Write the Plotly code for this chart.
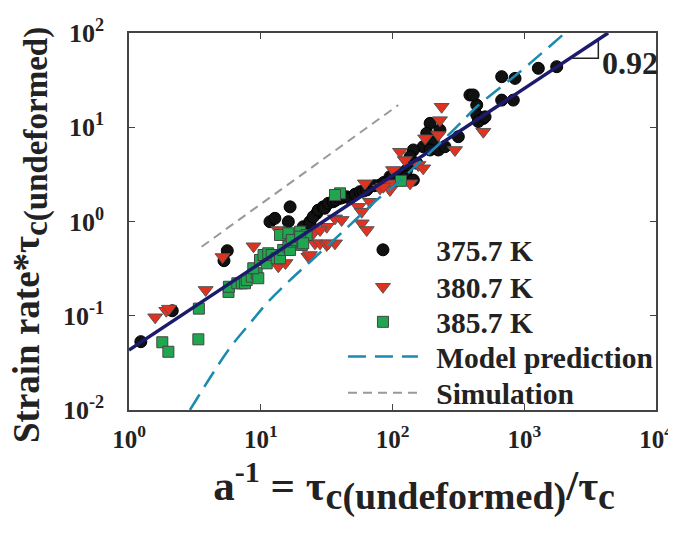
import plotly.graph_objects as go

# ---- data ----
black_x = [1.23, 2.13, 5.57, 5.26, 11.75, 12.8, 16.7, 16.2, 23.6, 26.6, 21.0, 23.6, 25.0, 27.3, 29.8,
           30.5, 32.6, 35.5, 37.0, 40.0, 42.0, 44.9, 47.6, 52.0, 56.6, 60.0, 63.7, 67.5, 73.0, 80.4,
           86.0, 95.7, 100, 108, 387, 436, 436, 193, 229, 182, 204, 171, 193, 223, 144, 136, 153,
           128, 114, 108, 128, 90.4, 144, 674, 851, 1279, 1763, 674, 826, 410, 489, 448, 316, 250, 504]
black_y = [0.0531, 0.113, 0.49, 0.384, 0.995, 1.08, 1.43, 0.995, 0.995, 1.22, 0.88, 0.957, 1.12, 1.32, 1.43,
           1.38, 1.56, 1.62, 1.68, 1.76, 1.80, 1.83, 1.76, 1.95, 2.07, 2.10, 2.16, 2.34, 2.40, 2.44,
           2.60, 2.99, 3.0, 3.25, 22.0, 17.2, 13.5, 11.0, 9.35, 8.63, 7.32, 6.22, 5.74, 5.74, 5.74, 4.87, 4.15,
           3.52, 3.25, 2.75, 2.99, 2.54, 2.75, 34.4, 33.0, 42.2, 43.9, 19.4, 19.4, 22.0, 12.4, 11.5, 7.94, 6.22, 12.9]

red_x = [1.58, 1.92, 2.01, 3.82, 5.13, 8.81, 13.6, 13.6, 15.4, 23.0, 25.8, 28.2, 25.0, 31.7, 36.6,
         61.8, 67.5, 80.4, 95.7, 95.7, 55.0, 58.4, 36.6, 41.1, 31.7, 28.2, 32.6, 58.4, 63.7, 23.6,
         236, 229, 177, 223, 298, 114, 124, 157, 171, 136, 101, 85.1, 489]
red_y = [0.0964, 0.113, 0.119, 0.188, 0.42, 0.546, 0.813, 0.335, 0.363, 0.423, 0.587, 0.587, 0.75, 0.564, 0.587,
         2.54, 1.62, 2.25, 2.54, 2.16, 1.43, 1.27, 1.08, 1.04, 0.88, 0.813, 0.587, 0.957, 0.813, 0.441,
         16.5, 11.9, 7.63, 8.28, 5.74, 5.5, 4.49, 3.98, 3.67, 2.54, 3.52, 2.34, 8.97]

green_x = [1.79, 1.99, 3.36, 3.39, 5.69, 5.73, 6.64, 7.17, 7.59, 7.82, 8.54, 9.31, 9.58, 8.78, 9.87,
           11.1, 10.5, 11.4, 12.1, 13.2, 14.0, 14.8, 16.2, 16.7, 17.7, 20.5, 14.0, 16.2, 17.2, 19.9,
           20.5, 22.3, 19.9, 21.0, 40.0, 36.6, 116]
green_y = [0.0523, 0.0415, 0.0562, 0.119, 0.179, 0.203, 0.221, 0.221, 0.221, 0.239, 0.26, 0.282, 0.25, 0.319, 0.391,
           0.36, 0.441, 0.46, 0.441, 0.407, 0.407, 0.499, 0.541, 0.499, 0.611, 0.564, 0.72, 0.75, 0.637, 0.78,
           0.664, 0.72, 0.69, 0.587, 1.99, 1.91, 2.7]

model_x = [2.90, 4.25, 5.68, 8.28, 11.4, 16.7, 23.7, 42.4, 75.9, 108, 307, 436, 929, 2037]
model_y = [0.01, 0.0235, 0.0434, 0.0832, 0.141, 0.239, 0.374, 0.79, 1.69, 2.54, 10.1, 16.5, 38.8, 100]

sim_x = [3.56, 110.7]
sim_y = [0.54, 17.2]

fit_x = [1.0, 4330]
fit_y = [0.0433, 100]

slope_tri_x = [2320, 3650, 3650]
slope_tri_y = [54, 54, 82]
slope_label = "0.92"

series_names = ["375.7 K", "380.7 K", "385.7 K", "Model prediction", "Simulation"]

x_tickvals = [1, 10, 100, 1000, 10000]
x_ticktext = ["10<sup>0</sup>", "10<sup>1</sup>", "10<sup>2</sup>", "10<sup>3</sup>", "10<sup>4</sup>"]
y_tickvals = [0.01, 0.1, 1, 10, 100]
y_ticktext = ["10<sup>-2</sup>", "10<sup>-1</sup>", "10<sup>0</sup>", "10<sup>1</sup>", "10<sup>2</sup>"]

FONT = "Liberation Serif"
TXT = "#222222"
PAD = "\u00a0\u2009"
ZW = "\u200b"
EM = "\u2003"

fig = go.Figure()

fig.add_trace(go.Scatter(x=black_x, y=black_y, mode="markers", name=PAD + series_names[0], legend="legend",
                         marker=dict(symbol="circle", size=12, color="#111111",
                                     line=dict(color="#000000", width=1))))
fig.add_trace(go.Scatter(x=red_x, y=red_y, mode="markers", name=PAD + series_names[1], legend="legend2",
                         marker=dict(symbol="triangle-down", size=13, color="#e2321f",
                                     line=dict(color="#555555", width=1))))
fig.add_trace(go.Scatter(x=green_x, y=green_y, mode="markers", name=PAD + series_names[2], legend="legend3",
                         marker=dict(symbol="square", size=11, color="#1fa64f",
                                     line=dict(color="#444444", width=1))))
fig.add_trace(go.Scatter(x=fit_x, y=fit_y, mode="lines", showlegend=False,
                         line=dict(color="#1c1a6b", width=3.5)))
fig.add_trace(go.Scatter(x=model_x, y=model_y, mode="lines", name=PAD + series_names[3], legend="legend4",
                         line=dict(color="#1a8ab0", width=2.5, dash="18px,9px", shape="spline")))
fig.add_trace(go.Scatter(x=sim_x, y=sim_y, mode="lines", name=PAD + series_names[4], legend="legend5",
                         line=dict(color="#999999", width=2, dash="9px,6px")))
fig.add_trace(go.Scatter(x=slope_tri_x, y=slope_tri_y, mode="lines", showlegend=False,
                         line=dict(color="#222222", width=1.5)))

fig.add_annotation(x=3.575, y=1.682, xref="x", yref="y", text=slope_label, showarrow=False,
                   xanchor="left", yanchor="middle",
                   font=dict(family=FONT, size=32, color=TXT, weight="bold"))

# y-axis title (placed as a rotated annotation to match the reference's position)
fig.add_annotation(x=-0.188, y=0.464, xref="paper", yref="paper", textangle=-90, showarrow=False,
                   xanchor="center", yanchor="middle",
                   text="Strain rate*τ<sub><span style='font-size:33px'>c(undeformed)</span></sub>",
                   font=dict(family=FONT, size=37, color=TXT, weight="bold"))

axis_common = dict(type="log", showline=True, linecolor="#444444", linewidth=1.5, mirror="ticks",
                   ticks="inside", ticklen=6, tickcolor="#444444", showgrid=False, zeroline=False,
                   automargin=False)

fig.update_xaxes(range=[0, 4], tickvals=x_tickvals, ticktext=x_ticktext, ticklabelstandoff=6,
                 tickfont=dict(family=FONT, size=25, color=TXT, weight="bold"),
                 title=dict(text=ZW + EM + "a<sup>-1</sup> = τ<sub><span style='font-size:38px'>c(undeformed)</span></sub>/τ<sub><span style='font-size:38px'>c</span></sub>",
                            font=dict(family=FONT, size=43, color=TXT, weight="bold"), standoff=18),
                 **axis_common)
fig.update_yaxes(range=[-2, 2], tickvals=y_tickvals, ticktext=y_ticktext, ticklabelstandoff=18,
                 tickfont=dict(family=FONT, size=26, color=TXT, weight="bold"),
                 **axis_common)

# legend rows (paper y of row centres)
row_y = [0.424, 0.326, 0.233, 0.141, 0.045]
leg_common = dict(x=0.406, xanchor="left", yanchor="middle", bgcolor="rgba(0,0,0,0)",
                  font=dict(family=FONT, size=29.5, color=TXT, weight="bold"), itemwidth=70)
# page body has an 8px default margin, so the figure is sized 668x525 to fill the 676x533 window
fig.update_layout(
    width=668, height=525,
    margin=dict(l=121, r=20, t=25, b=123),
    plot_bgcolor="white", paper_bgcolor="white",
    showlegend=True,
    legend=dict(y=row_y[0], **leg_common),
    legend2=dict(y=row_y[1], **leg_common),
    legend3=dict(y=row_y[2], **leg_common),
    legend4=dict(y=row_y[3], **leg_common),
    legend5=dict(y=row_y[4], **leg_common),
)

fig.write_html("out.html")
